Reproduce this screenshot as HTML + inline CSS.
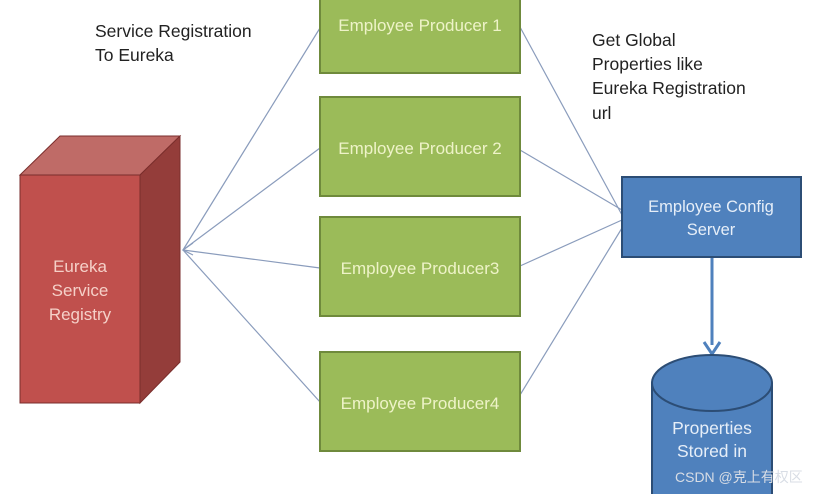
<!DOCTYPE html>
<html><head><meta charset="utf-8"><style>
body{margin:0;width:831px;height:494px;overflow:hidden;background:#fff;font-family:"Liberation Sans","Noto Sans CJK SC",sans-serif}
</style></head><body>
<svg width="831" height="494" viewBox="0 0 831 494" xmlns="http://www.w3.org/2000/svg" font-family="Liberation Sans, Noto Sans CJK SC, sans-serif">
<g stroke="#8a9cbc" stroke-width="1.2" fill="none">
<line x1="183" y1="250" x2="320" y2="28"/>
<line x1="183" y1="250" x2="320" y2="148"/>
<line x1="183" y1="250" x2="320" y2="268"/>
<line x1="183" y1="250" x2="320" y2="402"/>
<line x1="520" y1="27" x2="622" y2="215"/>
<line x1="520" y1="150" x2="622" y2="210"/>
<line x1="520" y1="266" x2="622" y2="220"/>
<line x1="520" y1="395" x2="622" y2="228"/>
</g>
<path d="M193 243 L183 250 L193 255" stroke="#8a9cbc" fill="none" stroke-width="1.2"/>
<polygon points="20,175 60,136 180,136 140,175" fill="#bf6b67" stroke="#7a2e2c"/>
<polygon points="140,175 180,136 180,362 140,403" fill="#943d3a" stroke="#7a2e2c"/>
<rect x="20" y="175" width="120" height="228" fill="#c0504d" stroke="#7a2e2c"/>
<g fill="#f5d0c8" font-size="17" text-anchor="middle">
<text x="80" y="272">Eureka</text><text x="80" y="296">Service</text><text x="80" y="320">Registry</text>
</g>
<g fill="#9bbb59" stroke="#6f8a3c" stroke-width="2">
<rect x="320" y="-5" width="200" height="78"/>
<rect x="320" y="97" width="200" height="99"/>
<rect x="320" y="217" width="200" height="99"/>
<rect x="320" y="352" width="200" height="99"/>
</g>
<g fill="#eef3c8" font-size="17" text-anchor="middle">
<text x="420" y="31">Employee Producer 1</text>
<text x="420" y="154">Employee Producer 2</text>
<text x="420" y="274">Employee Producer3</text>
<text x="420" y="409">Employee Producer4</text>
</g>
<g fill="#222" font-size="17.5">
<text x="95" y="37">Service Registration</text><text x="95" y="61">To Eureka</text>
<text x="592" y="46">Get Global</text><text x="592" y="70">Properties like</text>
<text x="592" y="94">Eureka Registration</text><text x="592" y="119">url</text>
</g>
<rect x="622" y="177" width="179" height="80" fill="#4f81bd" stroke="#2c4d75" stroke-width="2"/>
<g fill="#e6eef8" font-size="16.5" text-anchor="middle">
<text x="711" y="212">Employee Config</text><text x="711" y="235">Server</text>
</g>
<line x1="712" y1="258" x2="712" y2="345" stroke="#4f81bd" stroke-width="3"/>
<path d="M704 342 L712 354 L720 342" stroke="#4f81bd" stroke-width="3" fill="none"/>
<path d="M652 383 L652 500 L772 500 L772 383" fill="#4f81bd" stroke="#2c4d75" stroke-width="2"/>
<ellipse cx="712" cy="383" rx="60" ry="28" fill="#4f81bd" stroke="#2c4d75" stroke-width="2"/>
<g fill="#e6eef8" font-size="17.5" text-anchor="middle">
<text x="712" y="434">Properties</text><text x="712" y="457">Stored in</text>
</g>
<text x="675" y="482" fill="#d8dde5" font-size="14">CSDN @克上有权区</text>
</svg>
</body></html>
